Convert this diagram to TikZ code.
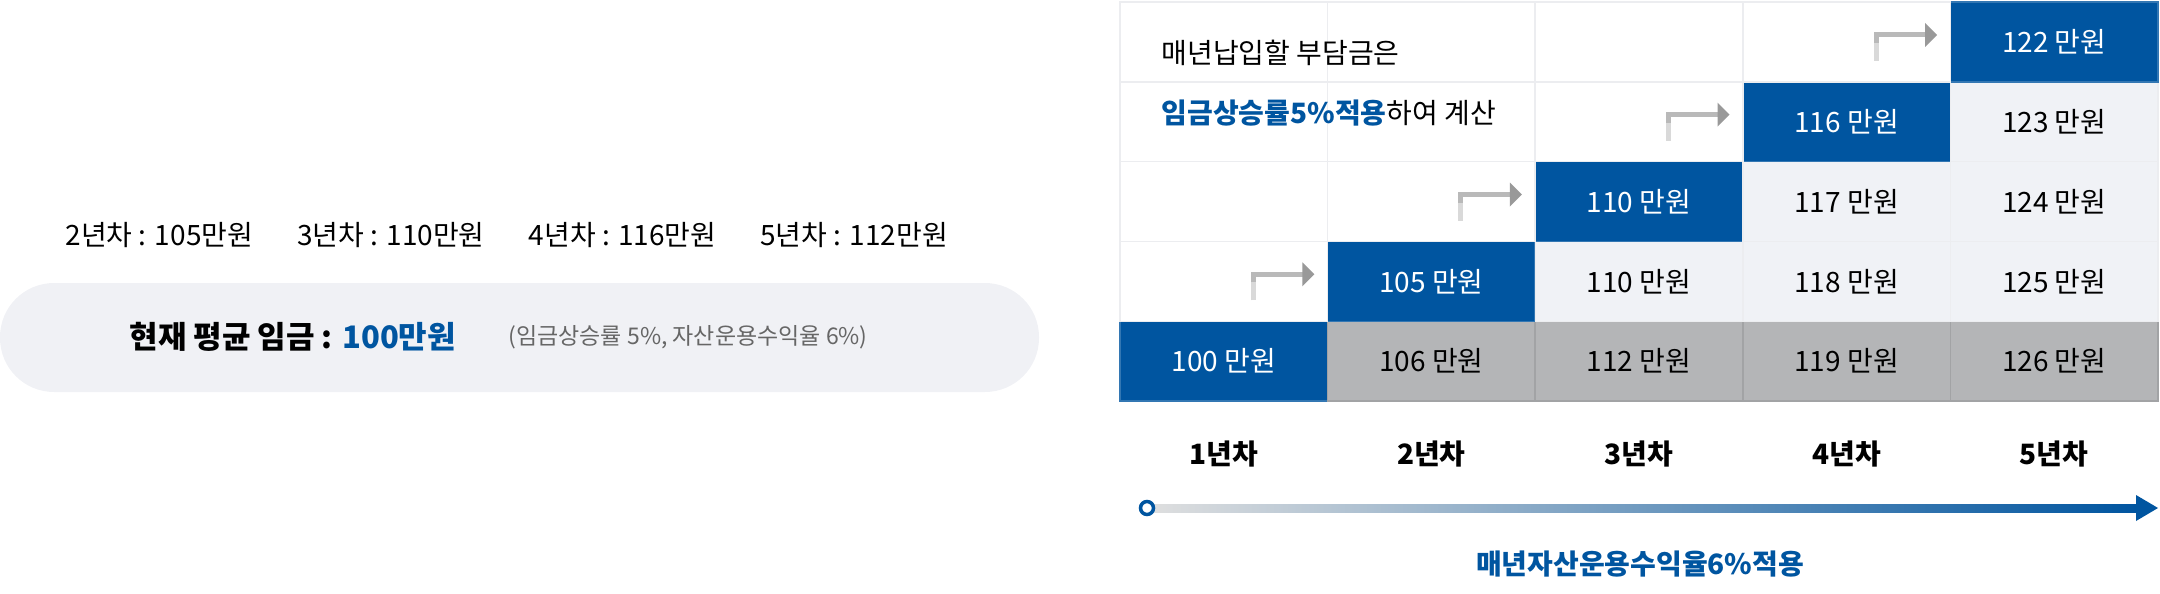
\documentclass[tikz,border=0pt]{standalone}
\usepackage{fontspec}
\setmainfont{Noto Sans CJK KR}
\usetikzlibrary{arrows.meta,positioning}
\definecolor{mainblue}{RGB}{0,85,160}
\definecolor{lightcell}{RGB}{240,242,246}
\definecolor{graycell}{RGB}{180,181,183}
\definecolor{gridline}{RGB}{236,237,240}
\definecolor{pillgray}{RGB}{240,241,245}
\tikzset{
  cell_font/.style = {font=\fontsize{28}{32}\selectfont},
  cell/.style = {cell_font, minimum width=207.5pt, minimum height=80pt, inner sep=0pt, draw=gridline, line width=1.5pt},
  blue_cell/.style = {cell, fill=mainblue, draw=mainblue!80!white, text=white},
  light_cell/.style = {cell, fill=lightcell},
  gray_cell/.style = {cell, fill=graycell, draw=graycell!90!black},
  empty_cell/.style = {cell, fill=white},
  year/.style = {font=\fontsize{28}{32}\selectfont\bfseries},
  hook/.style = {line width=5pt},
}
\begin{document}
\begin{tikzpicture}[x=1pt, y=-1pt]
  \useasboundingbox (0,0) rectangle (2160,594);

  % Left summary
  \node[font=\fontsize{28}{32}\selectfont, anchor=west] (rates) at (62,235) {
    2년차 : 105만원\hspace{44pt}3년차 : 110만원\hspace{44pt}4년차 : 116만원\hspace{44pt}5년차 : 112만원};
  \fill[pillgray, rounded corners=54pt] (0,283) rectangle (1039,392);
  \node[font=\fontsize{31}{34}\selectfont\bfseries, anchor=west] (now) at (126,337) {
    현재 평균 임금 : \textcolor{mainblue}{100만원}};
  \node[font=\fontsize{23}{26}\selectfont, text=black!60, anchor=west] (note) at (505,337) {
    (임금상승률 5\%, 자산운용수익율 6\%)};

  % Grid of cells: column/row(from bottom)/value
  \foreach \c/\r/\val in {1/1/100,
      2/1/106, 2/2/105,
      3/1/112, 3/2/110, 3/3/110,
      4/1/119, 4/2/118, 4/3/117, 4/4/116,
      5/1/126, 5/2/125, 5/3/124, 5/4/123, 5/5/122}{
    \pgfmathsetmacro{\cx}{1120+207.6*(\c-0.5)}
    \pgfmathsetmacro{\cy}{401-79.8*(\r-0.5)}
    \ifnum\r=\c
      \node[blue_cell] (c\c r\r) at (\cx,\cy) {\val{} 만원};
    \else\ifnum\r=1
      \node[gray_cell] (c\c r\r) at (\cx,\cy) {\val{} 만원};
    \else
      \node[light_cell] (c\c r\r) at (\cx,\cy) {\val{} 만원};
    \fi\fi
  }
  \foreach \c/\r in {1/2,1/3,1/4,1/5,2/3,2/4,2/5,3/4,3/5,4/5}{
    \pgfmathsetmacro{\cx}{1120+207.6*(\c-0.5)}
    \pgfmathsetmacro{\cy}{401-79.8*(\r-0.5)}
    \node[empty_cell] (c\c r\r) at (\cx,\cy) {};
  }

  % Caption in the empty corner
  \node[cell_font, anchor=west] (cap1) at (1158,53) {매년납입할 부담금은};
  \node[cell_font, anchor=west] (cap2) at (1158,113) {\textcolor{mainblue}{\bfseries 임금상승률5\%적용}하여 계산};

  % Hook arrows
  \foreach \c in {1,...,4}{
    \pgfmathtruncatemacro{\r}{\c+1}
    \coordinate (h\c a) at ([xshift=-75pt, yshift=-19pt]c\c r\r.east);
    \coordinate (h\c b) at ([xshift=-75pt, yshift=7pt]c\c r\r.east);
    \coordinate (h\c c) at ([xshift=-14pt, yshift=7pt]c\c r\r.east);
    \draw[hook, gray!30] (h\c a) -- ([yshift=-8pt]h\c b);
    \draw[hook, gray!55, line join=miter] ([yshift=-8pt]h\c b) -- (h\c b) -- ([xshift=-10pt]h\c c);
    \fill[gray!80] ([xshift=-12pt, yshift=-12pt]h\c c) -- (h\c c) -- ([xshift=-12pt, yshift=12pt]h\c c) -- cycle;
  }

  % Year labels
  \foreach \c in {1,...,5}{
    \node[year] (y\c) at ([yshift=-52pt]c\c r1.south) {\c 년차};
  }

  % Time axis
  \coordinate (axis_start) at (1147,508);
  \coordinate (axis_end) at (2136,508);
  \shade[left color=gray!25, right color=mainblue] ([yshift=-4pt]axis_start) rectangle ([yshift=4pt]axis_end);
  \fill[mainblue] ([yshift=-13pt]axis_end) -- ([xshift=22pt]axis_end) -- ([yshift=13pt]axis_end) -- cycle;
  \draw[mainblue, line width=3.5pt, fill=white] (axis_start) circle (6.5pt);
  \node[font=\fontsize{28}{32}\selectfont\bfseries, text=mainblue] (axis_label) at (1640,564) {매년자산운용수익율6\%적용};
\end{tikzpicture}
\end{document}
